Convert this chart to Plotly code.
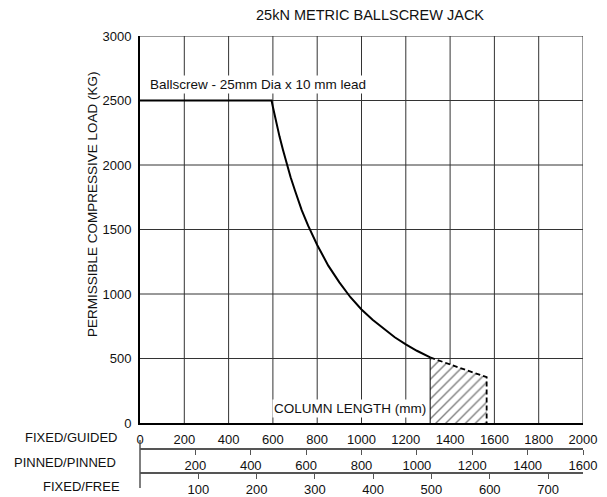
import plotly.graph_objects as go

# ---- data ----
length_mm = [0, 594, 600, 610, 620, 630, 645, 660, 670, 680, 700, 730, 759, 800, 850, 900, 950,
             1000, 1050, 1100, 1150, 1200, 1250, 1310]
load_kg = [2500, 2500, 2450, 2370, 2295, 2220, 2120, 2020, 1965, 1905, 1800, 1650, 1530, 1380, 1220,
           1090, 975, 880, 800, 730, 665, 610, 560, 508]

zone_len = [1310, 1565, 1565, 1310, 1310]
zone_load = [508, 355, 0, 0, 508]

x_main_ticks = [0, 200, 400, 600, 800, 1000, 1200, 1400, 1600, 1800, 2000]
pinned_ticks = [200, 400, 600, 800, 1000, 1200, 1400, 1600]
free_ticks = [100, 200, 300, 400, 500, 600, 700]
y_ticks = [0, 500, 1000, 1500, 2000, 2500, 3000]

title_text = "25kN METRIC BALLSCREW JACK"
y_title = "PERMISSIBLE COMPRESSIVE LOAD (KG)"
curve_label = "Ballscrew - 25mm Dia x 10 mm lead"
x_title = "COLUMN LENGTH (mm)"
row_labels = ["FIXED/GUIDED", "PINNED/PINNED", "FIXED/FREE"]

FONT = "Liberation Sans, Arial, sans-serif"
OFF = 8  # page body margin
W, H = 607 - OFF, 497 - OFF
L, T = 140 - OFF, 36 - OFF
R = W - (583 - OFF)
B = H - (473 - OFF)
ph = H - T - B
pw = W - L - R

def py(pix):  # screen pixel y -> paper fraction
    return (H - B - (pix - OFF)) / ph

def px(pix):
    return ((pix - OFF) - L) / pw

fig = go.Figure()

# hatched zone
fig.add_trace(go.Scatter(
    x=zone_len, y=zone_load, mode="lines", fill="toself",
    fillcolor="white", line=dict(width=0, color="rgba(0,0,0,0)"),
    fillpattern=dict(shape="/", fgcolor="#000", bgcolor="white", size=7, solidity=0.2),
    hoverinfo="skip", showlegend=False))
# dashed top + right edge
fig.add_trace(go.Scatter(
    x=zone_len[0:3], y=zone_load[0:3], mode="lines",
    line=dict(color="black", width=1.8, dash="5px,3px"),
    hoverinfo="skip", showlegend=False))
# solid left edge
fig.add_trace(go.Scatter(
    x=[zone_len[0], zone_len[0]], y=[zone_load[0], 0], mode="lines",
    line=dict(color="black", width=1),
    hoverinfo="skip", showlegend=False))

# main curve
fig.add_trace(go.Scatter(
    x=length_mm, y=load_kg, mode="lines", line=dict(color="black", width=2),
    hoverinfo="skip", showlegend=False))

fig.update_layout(
    width=W, height=H,
    margin=dict(l=L, r=R, t=T, b=B, autoexpand=False),
    plot_bgcolor="rgba(0,0,0,0)", paper_bgcolor="white",
    font=dict(family=FONT, size=13, color="#111"),
    showlegend=False,
    xaxis=dict(range=[0, 2000], tickvals=x_main_ticks, showgrid=False,
               showline=True, linecolor="black", linewidth=2, ticks="outside", ticklen=3,
               tickcolor="rgba(0,0,0,0)", zeroline=False, tickfont=dict(size=13)),
    yaxis=dict(range=[0, 3000], tickvals=y_ticks, domain=[py(423), 1], showgrid=False,
               showline=True, linecolor="black", linewidth=2,
               ticks="outside", ticklen=4, tickcolor="rgba(0,0,0,0)", zeroline=False,
               tickfont=dict(size=13)),
    xaxis2=dict(range=[0, 1600], tickvals=pinned_ticks, overlaying="x", anchor="free",
                position=py(449), side="bottom", showgrid=False, showline=True,
                linecolor="#555", linewidth=1.5, ticks="outside", ticklen=5, tickcolor="#555",
                zeroline=False, tickfont=dict(size=13)),
    xaxis3=dict(range=[0, 760], tickvals=free_ticks, overlaying="x", anchor="free",
                position=py(473), side="bottom", showgrid=False, showline=True,
                linecolor="#555", linewidth=1.5, ticks="outside", ticklen=5, tickcolor="#555",
                zeroline=False, tickfont=dict(size=13)),
)

# dummy traces to activate secondary axes
fig.add_trace(go.Scatter(x=[0], y=[None], xaxis="x2", yaxis="y", showlegend=False, hoverinfo="skip"))
fig.add_trace(go.Scatter(x=[0], y=[None], xaxis="x3", yaxis="y", showlegend=False, hoverinfo="skip"))

# grid lines drawn as shapes (below traces)
for xv in x_main_ticks[1:]:
    fig.add_shape(type="line", xref="x", yref="y", x0=xv, x1=xv, y0=0, y1=3000,
                  line=dict(color="#333", width=1), layer="below")
for yv in y_ticks[1:]:
    fig.add_shape(type="line", xref="x", yref="y", x0=0, x1=2000, y0=yv, y1=yv,
                  line=dict(color="#333", width=1), layer="below")

# vertical marker for secondary scales
fig.add_shape(type="line", xref="paper", yref="paper", x0=0, x1=0, y0=py(440), y1=py(488),
              line=dict(color="#555", width=1.5))

# title
fig.add_annotation(text=title_text, xref="paper", yref="paper", x=px(370), y=py(15),
                   xanchor="center", yanchor="middle", showarrow=False, font=dict(size=14.5))
# y title
fig.add_annotation(text=y_title, xref="paper", yref="paper", x=px(92), y=py(204),
                   xanchor="center", yanchor="middle", textangle=-90, showarrow=False,
                   font=dict(size=13.5))
# curve label
fig.add_annotation(text=curve_label, xref="x", yref="y", x=35, y=2625,
                   xanchor="left", yanchor="middle", showarrow=False, bgcolor="white",
                   font=dict(size=13.5))
# x title
fig.add_annotation(text=x_title, xref="x", yref="y", x=948, y=116,
                   xanchor="center", yanchor="middle", showarrow=False, bgcolor="white",
                   font=dict(size=13.5))
# row labels
for lbl, ypix, xr in zip(row_labels, [437, 462, 486], [119, 118, 122]):
    fig.add_annotation(text=lbl, xref="paper", yref="paper", x=px(xr), y=py(ypix),
                       xanchor="right", yanchor="middle", showarrow=False, font=dict(size=13))

fig.write_html("out.html")
